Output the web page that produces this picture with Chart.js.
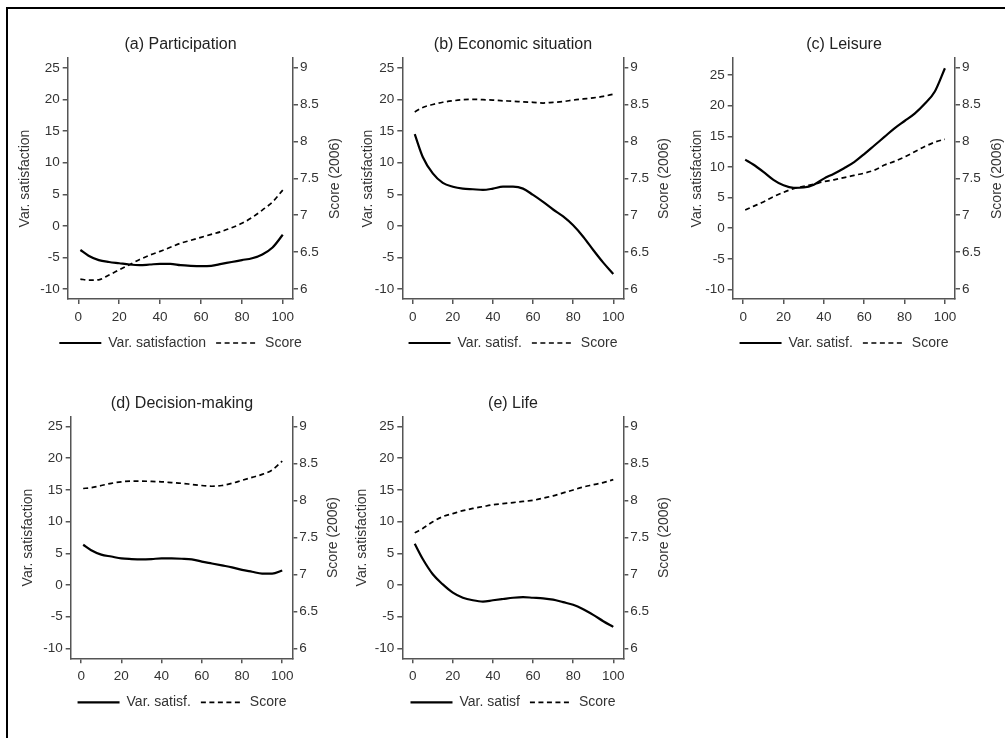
<!DOCTYPE html>
<html>
<head>
<meta charset="utf-8">
<script src="https://cdn.jsdelivr.net/npm/chart.js@4.4.1/dist/chart.umd.min.js"></script>
<style>
  html, body { margin: 0; padding: 0; background: #fff; overflow: hidden; width: 1005px; height: 738px; }
  #frame { position: absolute; left: 6px; top: 7px; width: 1010px; height: 740px; border-top: 2px solid #000; border-left: 2px solid #000; }
  canvas { position: absolute; }
</style>
</head>
<body>
<div id="frame"></div>
<canvas id="chartA" width="341" height="332" style="left:10px;top:30px"></canvas>
<canvas id="chartB" width="336" height="332" style="left:345px;top:30px"></canvas>
<canvas id="chartC" width="322" height="332" style="left:683px;top:30px"></canvas>
<canvas id="chartD" width="336" height="332" style="left:14px;top:390px"></canvas>
<canvas id="chartE" width="336" height="332" style="left:345px;top:390px"></canvas>
<script>
// ---------- Data ----------
const xPts = [1, 5, 10, 15, 20, 25, 30, 35, 40, 45, 50, 55, 60, 65, 70, 75, 80, 85, 90, 95, 100];
const xTicks = [0, 20, 40, 60, 80, 100];
const satTicks = [-10, -5, 0, 5, 10, 15, 20, 25];
const scoreTicks = [6, 6.5, 7, 7.5, 8, 8.5, 9];

const partSat   = [-3.8, -4.7, -5.4, -5.7, -5.9, -6.1, -6.2, -6.1, -6.0, -6.0, -6.2, -6.3, -6.35, -6.3, -6.0, -5.7, -5.4, -5.1, -4.5, -3.4, -1.4];
const partScore = [6.135, 6.12, 6.125, 6.19, 6.26, 6.33, 6.40, 6.46, 6.51, 6.565, 6.62, 6.66, 6.70, 6.74, 6.78, 6.83, 6.89, 6.97, 7.07, 7.18, 7.34];

const econSat   = [14.5, 10.9, 8.3, 6.8, 6.2, 5.9, 5.8, 5.7, 5.9, 6.2, 6.2, 5.9, 4.9, 3.8, 2.6, 1.5, 0.1, -1.7, -3.8, -5.8, -7.6];
const econScore = [8.40, 8.46, 8.50, 8.53, 8.55, 8.565, 8.57, 8.565, 8.56, 8.55, 8.545, 8.535, 8.53, 8.52, 8.53, 8.54, 8.56, 8.575, 8.59, 8.61, 8.64];

const leisSat   = [11.2, 10.4, 9.2, 7.9, 7.0, 6.6, 6.65, 7.1, 8.1, 8.9, 9.8, 10.8, 12.1, 13.5, 14.9, 16.3, 17.5, 18.7, 20.3, 22.3, 26.1];
const leisScore = [7.07, 7.12, 7.18, 7.25, 7.31, 7.36, 7.39, 7.42, 7.455, 7.48, 7.51, 7.54, 7.57, 7.61, 7.68, 7.73, 7.79, 7.86, 7.93, 7.99, 8.03];

const decSat    = [6.36, 5.5, 4.8, 4.5, 4.2, 4.1, 4.05, 4.1, 4.2, 4.2, 4.15, 4.05, 3.7, 3.4, 3.1, 2.8, 2.4, 2.1, 1.8, 1.8, 2.3];
const decScore  = [8.16, 8.17, 8.20, 8.23, 8.25, 8.26, 8.26, 8.255, 8.25, 8.24, 8.23, 8.215, 8.20, 8.19, 8.20, 8.23, 8.27, 8.31, 8.35, 8.41, 8.53];

const lifeSat   = [6.5, 4.1, 1.7, 0.1, -1.2, -2.0, -2.4, -2.6, -2.4, -2.2, -2.0, -1.9, -2.0, -2.1, -2.3, -2.7, -3.1, -3.8, -4.7, -5.7, -6.6];
const lifeScore = [7.56, 7.62, 7.71, 7.78, 7.82, 7.86, 7.89, 7.915, 7.94, 7.955, 7.97, 7.985, 8.0, 8.03, 8.06, 8.10, 8.14, 8.18, 8.21, 8.24, 8.28];

// ---------- Styling ----------
const textColor = '#333';
const axisColor = '#555';
const fontFamily = '"Liberation Sans", Arial, Helvetica, sans-serif';
Chart.defaults.font.family = fontFamily;
Chart.defaults.color = textColor;
Chart.defaults.animation = false;

// right axis title reads bottom-to-top in the original, so draw it ourselves
const rightTitle = {
  id: 'rightTitle',
  afterDraw(chart, args, opts) {
    const s = chart.scales.yR;
    const ctx = chart.ctx;
    ctx.save();
    ctx.translate(s.left + opts.dist, (s.top + s.bottom) / 2);
    ctx.rotate(-Math.PI / 2);
    ctx.font = '14px ' + fontFamily;
    ctx.fillStyle = textColor;
    ctx.textAlign = 'center';
    ctx.textBaseline = 'middle';
    ctx.fillText(opts.text, 0, 0);
    ctx.restore();
  }
};

const axisLines = () => ({
  border: { display: true, color: axisColor, width: 1.5 },
  grid: { drawOnChartArea: false, drawTicks: true, tickLength: 5, color: axisColor, lineWidth: 1.5 }
});

const toPts = (ys) => ys.map((y, i) => ({ x: xPts[i], y }));

// legend keys should show the dataset's own line (width + dash)
function lineLabels(chart) {
  return Chart.defaults.plugins.legend.labels.generateLabels(chart).map(item => {
    const ds = chart.data.datasets[item.datasetIndex];
    item.lineDash = ds.borderDash || [];
    item.lineWidth = ds.borderWidth;
    item.strokeStyle = ds.borderColor;
    return item;
  });
}

function createPanel(id, title, satLabel, sat, score, satMax, lay) {
  const ctx = document.getElementById(id).getContext('2d');
  return new Chart(ctx, {
    type: 'line',
    data: {
      datasets: [{
        label: satLabel,
        data: toPts(sat),
        yAxisID: 'y',
        borderColor: '#000',
        backgroundColor: '#000',
        borderWidth: 2.2,
        pointRadius: 0,
        cubicInterpolationMode: 'monotone',
        fill: false
      }, {
        label: 'Score',
        data: toPts(score),
        yAxisID: 'yR',
        borderColor: '#000',
        backgroundColor: 'rgba(0,0,0,0)',
        borderWidth: 1.7,
        borderDash: [5, 3.5],
        pointRadius: 0,
        cubicInterpolationMode: 'monotone',
        fill: false
      }]
    },
    options: {
      responsive: false,
      layout: { padding: { left: 0, right: 0, top: lay.pt, bottom: lay.pb } },
      plugins: {
        title: {
          display: true,
          text: title,
          color: '#222',
          font: { size: 16, weight: 'normal' },
          padding: { top: 0, bottom: lay.tb }
        },
        legend: {
          position: 'bottom',
          labels: {
            usePointStyle: true,
            pointStyle: 'line',
            pointStyleWidth: 42,
            padding: 10,
            color: textColor,
            font: { size: 14 },
            generateLabels: lineLabels
          }
        },
        tooltip: { enabled: false },
        rightTitle: { text: 'Score (2006)', dist: lay.rd }
      },
      scales: {
        x: {
          type: 'linear',
          min: -5.2,
          max: 105,
          afterBuildTicks: (s) => { s.ticks = xTicks.map(v => ({ value: v })); },
          afterFit: (s) => { s.height = 27; },
          ticks: { padding: 5, color: textColor, font: { size: 13.5 } },
          ...axisLines()
        },
        y: {
          position: 'left',
          min: -11.55,
          max: satMax,
          afterBuildTicks: (s) => { s.ticks = satTicks.map(v => ({ value: v })); },
          afterFit: (s) => { s.width = lay.wl; },
          ticks: { padding: 3, color: textColor, font: { size: 13.5 } },
          title: { display: true, text: 'Var. satisfaction', color: textColor, font: { size: 14 }, padding: { top: lay.tl, bottom: 0 } },
          ...axisLines()
        },
        yR: {
          position: 'right',
          min: 5.865,
          max: 9.13,
          afterBuildTicks: (s) => { s.ticks = scoreTicks.map(v => ({ value: v })); },
          afterFit: (s) => { s.width = lay.wr; },
          ticks: { padding: 2, color: textColor, font: { size: 13.5 }, callback: (v) => String(v) },
          ...axisLines()
        }
      }
    },
    plugins: [rightTitle]
  });
}

// ---------- Create panels ----------
createPanel('chartA', '(a) Participation', 'Var. satisfaction', partSat, partScore, 26.55,
  { pt: 5.4, pb: 2, tb: 3.4, wl: 57.7, wr: 58, tl: 6.6, rd: 42 });
createPanel('chartB', '(b) Economic situation', 'Var. satisf.', econSat, econScore, 26.55,
  { pt: 5.4, pb: 2, tb: 3.4, wl: 57.3, wr: 57.7, tl: 14.9, rd: 41 });
createPanel('chartC', '(c) Leisure', 'Var. satisf.', leisSat, leisScore, 27.78,
  { pt: 5.4, pb: 2, tb: 3.4, wl: 49.7, wr: 50, tl: 5.3, rd: 41.7 });
createPanel('chartD', '(d) Decision-making', 'Var. satisf.', decSat, decScore, 26.55,
  { pt: 3.7, pb: 2.7, tb: 3.8, wl: 56.7, wr: 57.7, tl: 5.9, rd: 41 });
createPanel('chartE', '(e) Life', 'Var. satisf', lifeSat, lifeScore, 26.55,
  { pt: 3.7, pb: 2.7, tb: 3.8, wl: 57.3, wr: 57.7, tl: 8.9, rd: 41 });
</script>
</body>
</html>
